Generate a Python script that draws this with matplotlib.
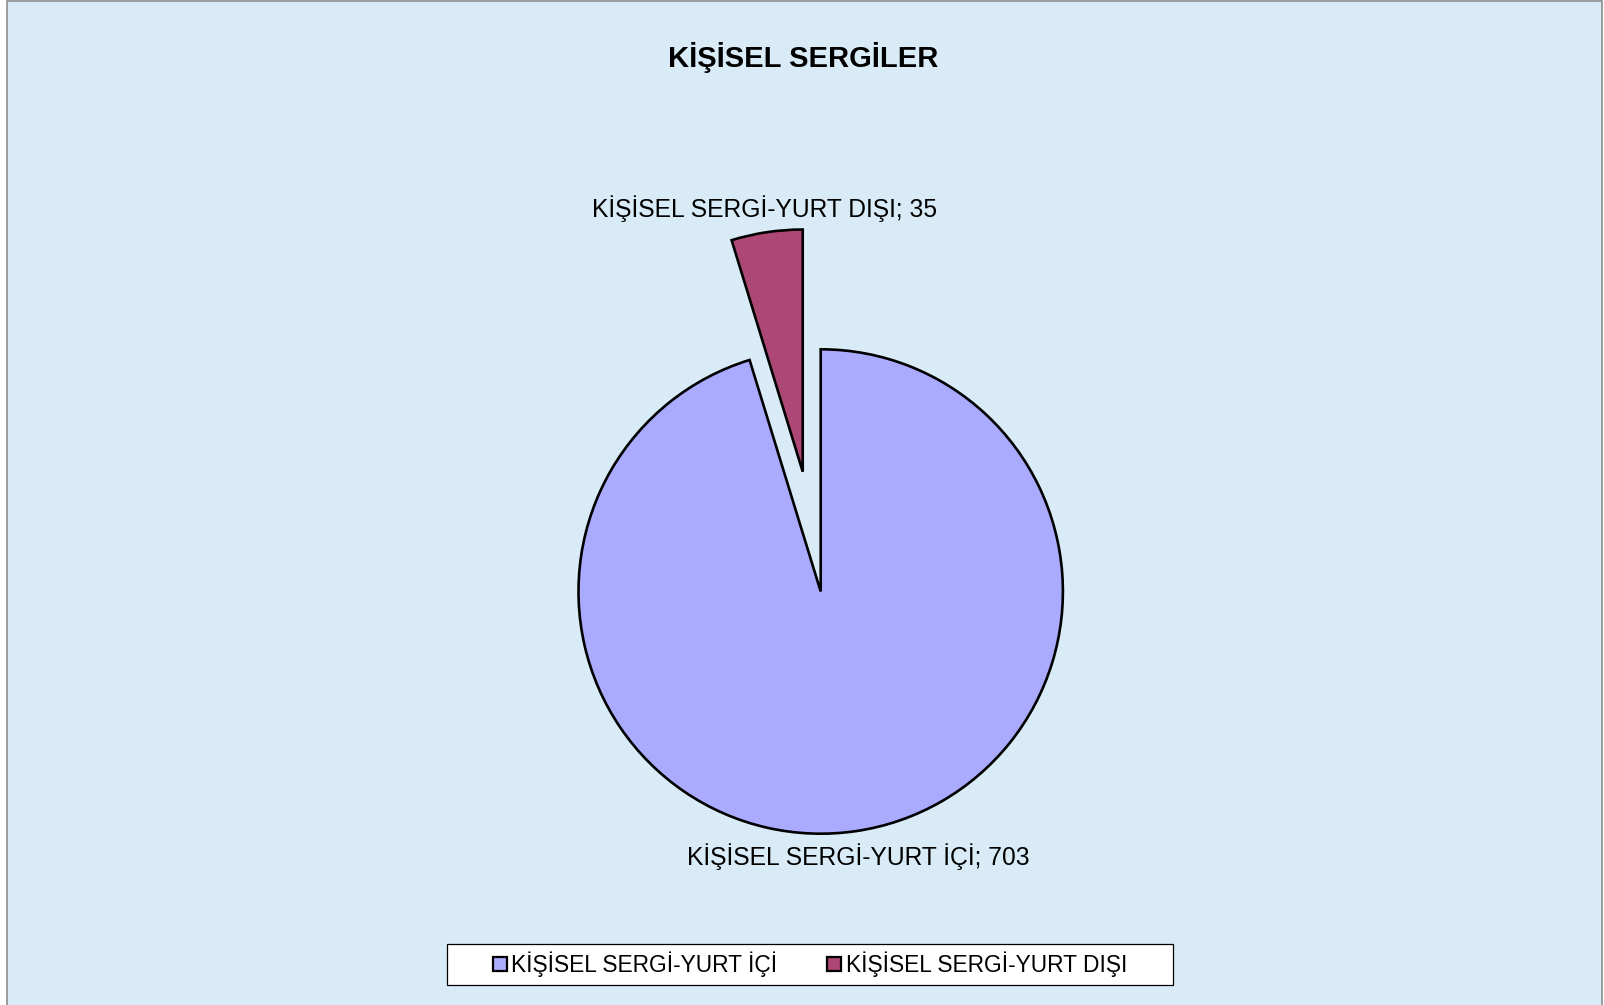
import matplotlib
matplotlib.use("Agg")
import matplotlib.pyplot as plt
from matplotlib.patches import Rectangle

plt.rcParams['font.family'] = ['Liberation Sans', 'DejaVu Sans']

title = "KİŞİSEL SERGİLER"
categories = ["KİŞİSEL SERGİ-YURT İÇİ", "KİŞİSEL SERGİ-YURT DIŞI"]
values = [703, 35]
colors = ["#AAAAFF", "#AD4876"]
explode_frac = [0, 0.5]

W, H = 1604, 1005
fig = plt.figure(figsize=(W / 100, H / 100), dpi=100, facecolor="white")

# background panel with gray frame
bg = Rectangle((7 / W, -0.02), (1602 - 7) / W, (H - 1) / H + 0.02,
               transform=fig.transFigure, facecolor="#D8EBF6",
               edgecolor="#8C8C8C", linewidth=1.2, zorder=-5)
fig.patches.append(bg)

ax = fig.add_axes([0, 0, 1, 1], zorder=2)
ax.patch.set_alpha(0)

cx, cy, r = 820.7, H - 591.5, 242.2
wedges, _ = ax.pie(values, colors=colors,
                   explode=[e * r for e in explode_frac], startangle=90,
                   counterclock=False, center=(cx, cy), radius=r,
                   wedgeprops=dict(edgecolor="black", linewidth=1.9),
                   frame=True)
ax.set_xlim(0, W)
ax.set_ylim(0, H)
ax.set_aspect("equal")
ax.axis("off")

label_pos = [(858, H - 865), (764.7, H - 216.7)]
for cat, val, (lx, ly) in zip(categories, values, label_pos):
    ax.text(lx, ly, f"{cat}; {val}", ha="center", va="baseline",
            fontsize=17.7, color="black")

fig.text(803 / W, 1 - 67.3 / H, title, ha="center", va="baseline",
         fontsize=21, fontweight="bold", color="black")

# legend frame
lf = Rectangle((447 / W, 1 - 985 / H), (1173 - 447) / W, (985 - 944) / H,
               transform=fig.transFigure, facecolor="white",
               edgecolor="black", linewidth=0.9, zorder=1)
fig.patches.append(lf)

leg = fig.legend(wedges, categories, loc="center",
                 bbox_to_anchor=(810 / W, 1 - 964.5 / H), ncol=2,
                 frameon=False, fontsize=16.4, handlelength=0.6,
                 handleheight=0.6, handletextpad=0.2, columnspacing=2.2)
leg.set_zorder(3)
for h in leg.legend_handles:
    h.set_linewidth(1.6)

fig.savefig("out.png", dpi=100, facecolor="white")
